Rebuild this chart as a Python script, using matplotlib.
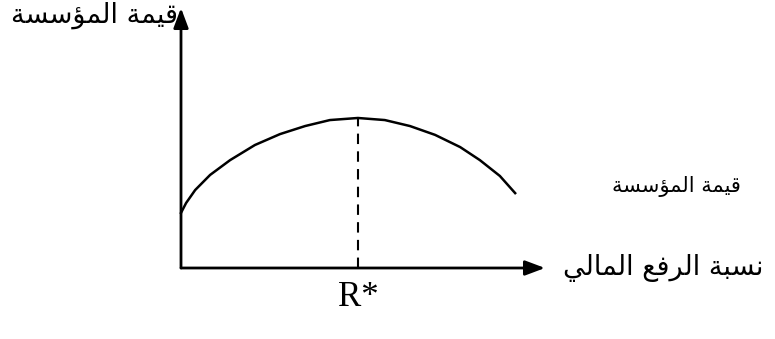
import matplotlib.pyplot as plt

# curve: leverage (x) vs firm value (y), axis units 0..10
leverage = [0.0, 0.14, 0.39, 0.8, 1.35, 2.03, 2.72, 3.41, 4.09, 4.86,
            5.6, 6.29, 6.98, 7.67, 8.21, 8.76, 9.18]
value = [2.12, 2.5, 3.0, 3.58, 4.15, 4.73, 5.15, 5.46, 5.69, 5.77,
         5.69, 5.46, 5.12, 4.65, 4.15, 3.54, 2.88]
r_star = 4.86
peak_value = 5.77

y_label = "قيمة المؤسسة"
x_label = "نسبة الرفع المالي"
curve_label = "قيمة المؤسسة"
r_label = "R*"

# matplotlib has no Arabic shaping, so pick presentation forms by hand
# (isolated, final, initial, medial)
FORMS = {
    'ا': ('\uFE8D', '\uFE8E', None, None),
    'ب': ('\uFE8F', '\uFE90', '\uFE91', '\uFE92'),
    'ة': ('\uFE93', '\uFE94', None, None),
    'ر': ('\uFEAD', '\uFEAE', None, None),
    'س': ('\uFEB1', '\uFEB2', '\uFEB3', '\uFEB4'),
    'ع': ('\uFEC9', '\uFECA', '\uFECB', '\uFECC'),
    'ف': ('\uFED1', '\uFED2', '\uFED3', '\uFED4'),
    'ق': ('\uFED5', '\uFED6', '\uFED7', '\uFED8'),
    'ل': ('\uFEDD', '\uFEDE', '\uFEDF', '\uFEE0'),
    'م': ('\uFEE1', '\uFEE2', '\uFEE3', '\uFEE4'),
    'ن': ('\uFEE5', '\uFEE6', '\uFEE7', '\uFEE8'),
    'ي': ('\uFEF1', '\uFEF2', '\uFEF3', '\uFEF4'),
    'ؤ': ('\uFE85', '\uFE86', None, None),
}


def shape(text):
    out = []
    for i, ch in enumerate(text):
        if ch not in FORMS:
            out.append(ch)
            continue
        prev = text[i - 1] if i > 0 else ''
        nxt = text[i + 1] if i + 1 < len(text) else ''
        joins_prev = prev in FORMS and FORMS[prev][2] is not None
        joins_next = FORMS[ch][2] is not None and nxt in FORMS
        iso, fin, ini, med = FORMS[ch]
        if joins_prev and joins_next:
            out.append(med)
        elif joins_prev:
            out.append(fin)
        elif joins_next:
            out.append(ini)
        else:
            out.append(iso)
    return ''.join(reversed(out))


fig = plt.figure(figsize=(7.75, 3.39), dpi=100)
# origin of the sketch at pixel (181, 268), arrow tips at x=545 and y=8
ax = fig.add_axes([181 / 775, (339 - 268) / 339, (545 - 181) / 775, (268 - 8) / 339])
ax.set_xlim(0, 10)
ax.set_ylim(0, 10)
ax.axis('off')

arrow = dict(arrowstyle='-|>,head_length=1.2,head_width=0.45', color='black',
             lw=2, mutation_scale=10, shrinkA=0, shrinkB=0)
ax.annotate('', xy=(0, 10), xytext=(0, 0), arrowprops=arrow, annotation_clip=False)
ax.annotate('', xy=(10, 0), xytext=(0, 0), arrowprops=arrow, annotation_clip=False)

ax.plot(leverage, value, color='black', lw=1.8, clip_on=False,
        solid_joinstyle='round')
ax.plot([r_star, r_star], [0, peak_value], color='black', lw=1.5,
        linestyle=(0, (5, 3.5)))

ar = 'DejaVu Sans'
ax.text(-0.08, 9.73, shape(y_label), family=ar, fontsize=19.5, ha='right', va='center')
ax.text(10.49, 0, shape(x_label), family=ar, fontsize=19.5, ha='left', va='center')
ax.text(11.84, 3.15, shape(curve_label), family=ar, fontsize=15, ha='left', va='center')
ax.text(r_star, -0.5, r_label, family='Liberation Serif', fontsize=25,
        ha='center', va='top')

fig.savefig('out.png', dpi=100)
